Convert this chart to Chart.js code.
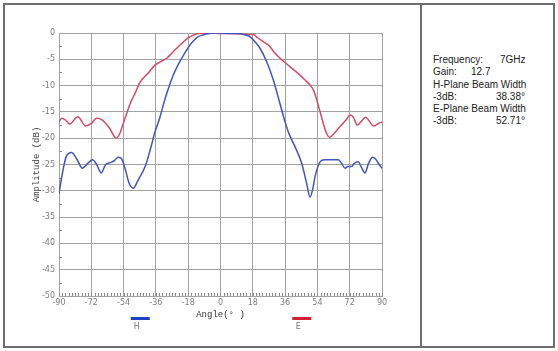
<!DOCTYPE html>
<html>
<head>
<meta charset="utf-8">
<script src="https://cdn.jsdelivr.net/npm/chart.js@4.4.1/dist/chart.umd.min.js"></script>
<style>
  body { margin: 0; background: #fff; width: 558px; height: 351px; overflow: hidden; position: relative; }
  #frame { position: absolute; left: 3px; top: 3px; width: 552px; height: 345px; box-sizing: border-box; border: 2px solid #6e6e6e; }
  #divider { position: absolute; left: 420px; top: 3px; width: 2px; height: 345px; background: #6e6e6e; }
  #plot { position: absolute; left: 0; top: 0; z-index: 1; }
  #info { position: absolute; left: 433px; top: 54px; width: 92px; font-family: "Liberation Sans", Arial, sans-serif; font-size: 10px; color: #222; line-height: 12.3px; }
  #info div { white-space: nowrap; position: relative; height: 12.3px; }
  #info span.v { position: absolute; }
</style>
</head>
<body>
<div id="frame"></div>
<div id="divider"></div>
<canvas id="plot" width="420" height="351"></canvas>
<div id="info">
  <div>Frequency:<span class="v" style="left:67px">7GHz</span></div>
  <div>Gain:<span class="v" style="left:38px">12.7</span></div>
  <div>H-Plane Beam Width</div>
  <div>-3dB:<span class="v" style="right:0">38.38°</span></div>
  <div>E-Plane Beam Width</div>
  <div>-3dB:<span class="v" style="right:0">52.71°</span></div>
</div>
<script>
// H-plane pattern (angle in degrees, amplitude in dB)
var hAngles = [-90, -88, -86, -83, -80, -77, -74, -71.4, -69, -66.5, -64, -61, -59, -57, -55, -53, -51, -48.6, -46, -42,
  -39, -36.5, -34, -31.5, -29, -26.3, -24, -21.6, -19, -17, -14.5, -12.4, -10, -7.7, -4, 0, 5, 10.9, 13, 16.4,
  19, 22, 25.8, 29.4, 33.2, 36, 38, 41.5, 45.3, 48, 49.9, 51.5, 52.7, 55.5, 58, 61, 65.7, 67.5, 69.4, 71,
  73.1, 74.5, 76.8, 78.5, 80.5, 82.5, 84.8, 86.5, 88, 90];
var hValues = [-30.5, -26.5, -23.5, -22.7, -24.0, -25.7, -24.8, -24.1, -25.0, -26.6, -25.0, -24.6, -24.2, -23.6, -24.0, -26.0, -28.5, -29.5, -28.0, -25.4,
  -22.0, -18.8, -16.3, -13.2, -10.5, -8.0, -6.3, -4.8, -3.3, -2.3, -1.3, -0.7, -0.4, -0.2, 0, 0, -0.1, -0.1, -0.3, -0.7,
  -1.6, -2.9, -5.5, -8.9, -13.5, -16.9, -19.0, -21.6, -24.8, -28.6, -31.2, -29.5, -27.3, -24.5, -24.1, -24.1, -24.1, -24.8, -25.7, -25.4,
  -25.4, -24.8, -24.5, -25.5, -26.6, -24.8, -23.6, -24.0, -24.8, -25.7];

// E-plane pattern
var eAngles = [-90, -88.5, -86.5, -84, -79.6, -75, -72, -69, -66, -62, -58, -56, -54, -50.4, -47, -44.9, -40, -36.5, -33, -30,
  -27, -24.4, -21, -18.8, -15.2, -12, -6, 0, 6, 12, 15, 18.3, 21, 24, 27.6, 30, 33.2, 38, 44.3, 47,
  49.9, 52, 53.6, 55.5, 57.3, 59, 60.8, 63, 66.6, 70, 72.2, 74, 76.2, 78, 81, 83, 85.2, 88, 90];
var eValues = [-16.9, -16.2, -16.5, -17.3, -15.9, -17.7, -17.2, -16.2, -16.5, -18.0, -20.0, -19.0, -17.0, -13.5, -11.0, -9.4, -7.5, -6.1, -5.4, -4.8,
  -3.8, -2.9, -1.8, -1.1, -0.4, -0.1, 0, -0.1, -0.1, -0.2, -0.3, -0.3, -1.0, -1.7, -2.6, -3.7, -4.8, -6.2, -8.0, -8.9,
  -9.9, -11.0, -12.7, -15.0, -17.2, -19.0, -19.8, -19.2, -17.8, -16.5, -15.6, -16.0, -17.5, -17.0, -16.0, -16.8, -17.7, -17.2, -16.9];

var xTicks = [-90, -72, -54, -36, -18, 0, 18, 36, 54, 72, 90];
var yTicks = [-50, -45, -40, -35, -30, -25, -20, -15, -10, -5, 0];

function toPoints(xs, ys) {
  var pts = [];
  for (var i = 0; i < xs.length; i++) pts.push({ x: xs[i], y: ys[i] });
  return pts;
}

// small minor ticks along the bottom and left edges, plus the H / E legend
var decorPlugin = {
  id: 'decor',
  beforeDatasetsDraw: function (chart) {
    var ctx = chart.ctx, a = chart.chartArea;
    var xs = chart.scales.x, ys = chart.scales.y;
    ctx.save();
    ctx.strokeStyle = '#8a8a8a';
    ctx.lineWidth = 1;
    ctx.beginPath();
    for (var v = -90; v <= 90.01; v += 1.8) {
      var px = Math.round(xs.getPixelForValue(v)) + 0.5;
      ctx.moveTo(px, a.bottom);
      ctx.lineTo(px, a.bottom - 3);
    }
    for (var d = -47.5; d < 0; d += 5) {
      var py = Math.round(ys.getPixelForValue(d)) + 0.5;
      ctx.moveTo(a.left, py);
      ctx.lineTo(a.left + 3, py);
    }
    ctx.stroke();
    ctx.restore();
  },
  afterDraw: function (chart) {
    var ctx = chart.ctx, a = chart.chartArea;
    var spots = [0.25, 0.75];
    ctx.save();
    chart.data.datasets.forEach(function (ds, i) {
      var cx = a.left + (a.right - a.left) * spots[i];
      ctx.fillStyle = ds.legendColor;
      ctx.fillRect(cx - 9, 317, 19, 3);
      ctx.fillStyle = '#777';
      ctx.font = '8px "DejaVu Sans", sans-serif';
      ctx.textAlign = 'center';
      ctx.textBaseline = 'middle';
      ctx.fillText(ds.label, cx - 3, 327);
    });
    ctx.restore();
  }
};

var gridColor = '#a2a2a2';

new Chart(document.getElementById('plot').getContext('2d'), {
  type: 'line',
  data: {
    datasets: [{
      label: 'H',
      data: toPoints(hAngles, hValues),
      borderColor: '#4154c6',
      legendColor: '#2040c0',
      borderWidth: 1.5,
      pointRadius: 0,
      tension: 0.4,
      cubicInterpolationMode: 'monotone'
    }, {
      label: 'E',
      data: toPoints(eAngles, eValues),
      borderColor: '#d84a64',
      legendColor: '#d42030',
      borderWidth: 1.5,
      pointRadius: 0,
      tension: 0.4,
      cubicInterpolationMode: 'monotone'
    }]
  },
  options: {
    responsive: false,
    animation: false,
    layout: { padding: { left: 31, top: 33, right: 38, bottom: 31 } },
    plugins: { legend: { display: false }, tooltip: { enabled: false } },
    scales: {
      x: {
        type: 'linear',
        min: -90,
        max: 90,
        afterBuildTicks: function (s) { s.ticks = xTicks.map(function (v) { return { value: v }; }); },
        afterFit: function (s) { s.height = 24; },
        ticks: { color: '#808080', font: { size: 8, family: '"DejaVu Sans", sans-serif' }, padding: 2, maxRotation: 0 },
        grid: { color: gridColor, lineWidth: 1, drawTicks: false },
        border: { color: gridColor },
        title: { display: true, text: 'Angle(° )', color: '#333', font: { size: 9, family: '"Liberation Mono", monospace' }, padding: { top: 0, bottom: 0 } }
      },
      y: {
        min: -50,
        max: 0,
        afterBuildTicks: function (s) { s.ticks = yTicks.map(function (v) { return { value: v }; }); },
        afterFit: function (s) { s.width = 28; },
        ticks: { color: '#808080', font: { size: 8, family: '"DejaVu Sans", sans-serif' }, padding: 4 },
        grid: { color: gridColor, lineWidth: 1, drawTicks: false },
        border: { color: gridColor },
        title: { display: true, text: 'Amplitude (dB)', color: '#444', font: { size: 9, family: '"Liberation Mono", monospace' }, padding: { top: 0, bottom: 0 } }
      }
    }
  },
  plugins: [decorPlugin]
});
</script>
</body>
</html>
